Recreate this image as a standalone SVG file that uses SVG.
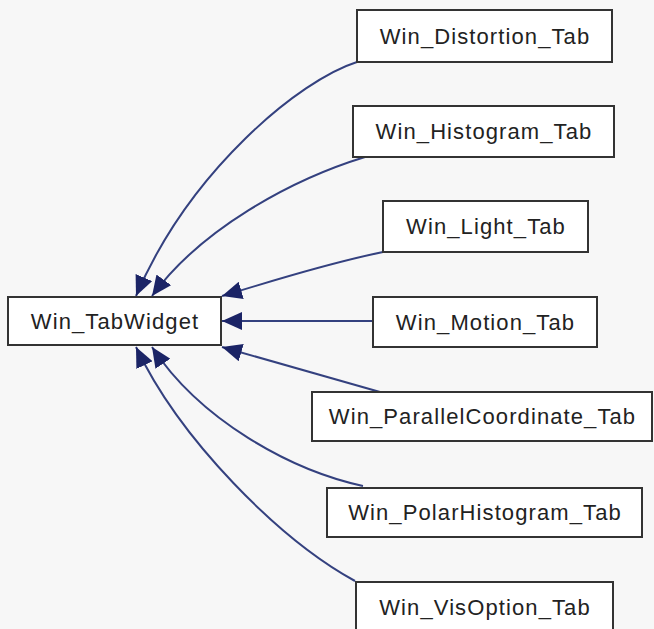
<svg xmlns="http://www.w3.org/2000/svg" width="654" height="629" viewBox="0 0 654 629">
  <defs>
    <marker id="arrow" markerUnits="userSpaceOnUse" markerWidth="22" markerHeight="18" refX="20" refY="9" orient="auto">
      <polygon points="0,0 20,9 0,18" fill="#1b2466"/>
    </marker>
    <style>
      .node rect { fill: #ffffff; stroke: #333333; stroke-width: 2; }
      .node text { font-family: "Liberation Sans", Arial, sans-serif; font-size: 22px; letter-spacing: 1.1px; fill: #222222; text-anchor: middle; }
      .edge { fill: none; stroke: #34417f; stroke-width: 2; marker-end: url(#arrow); }
    </style>
  </defs>
  <rect x="0" y="0" width="654" height="629" fill="#f7f7f7"/>

  <!-- inheritance edges, each pointing at the base class -->
  <g id="connectors">
    <path class="edge" d="M357,62 C300,80 190,170 136,296"/>
    <path class="edge" d="M365,157 C290,180 200,230 152,296"/>
    <path class="edge" d="M383,252 C320,265 270,282 222,296"/>
    <path class="edge" d="M373,321 L222,321"/>
    <path class="edge" d="M380,392 C320,375 270,361 222,347"/>
    <path class="edge" d="M363,486 C290,470 200,420 152,347"/>
    <path class="edge" d="M355,581 C280,540 180,440 136,347"/>
  </g>

  <g id="Win_TabWidget" class="node">
    <rect x="8" y="297" width="213" height="48"/>
    <text x="115" y="329">Win_TabWidget</text>
  </g>
  <g id="Win_Distortion_Tab" class="node">
    <rect x="357" y="10" width="255" height="52"/>
    <text x="485" y="44">Win_Distortion_Tab</text>
  </g>
  <g id="Win_Histogram_Tab" class="node">
    <rect x="353" y="106" width="261" height="51"/>
    <text x="484" y="139">Win_Histogram_Tab</text>
  </g>
  <g id="Win_Light_Tab" class="node">
    <rect x="383" y="201" width="205" height="51"/>
    <text x="486" y="234">Win_Light_Tab</text>
  </g>
  <g id="Win_Motion_Tab" class="node">
    <rect x="373" y="297" width="224" height="50"/>
    <text x="485.5" y="330">Win_Motion_Tab</text>
  </g>
  <g id="Win_ParallelCoordinate_Tab" class="node">
    <rect x="312" y="392" width="340" height="49"/>
    <text x="482.5" y="424">Win_ParallelCoordinate_Tab</text>
  </g>
  <g id="Win_PolarHistogram_Tab" class="node">
    <rect x="327" y="488" width="315" height="49"/>
    <text x="485" y="520">Win_PolarHistogram_Tab</text>
  </g>
  <g id="Win_VisOption_Tab" class="node">
    <rect x="356" y="582" width="257" height="50"/>
    <text x="485" y="615">Win_VisOption_Tab</text>
  </g>
</svg>
